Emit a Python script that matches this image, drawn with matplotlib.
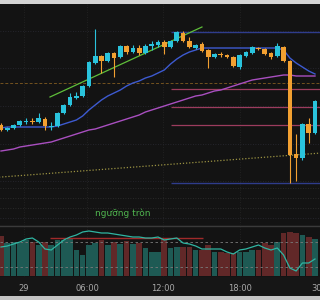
import numpy as np
import matplotlib.pyplot as plt
from matplotlib.patches import Rectangle

# ---------------------------------------------------------------
# Data (30-minute candles, price units are arbitrary chart units)
# ---------------------------------------------------------------
opens  = [105, 100, 102, 105, 108, 109, 108, 111, 103, 104, 117, 125, 132, 134, 144, 167, 174,
          169, 177, 173, 184, 178, 182, 177, 184, 185, 188, 183, 189, 197, 189, 182, 186, 180,
          173, 176, 175, 173, 163, 174, 177, 182, 181, 177, 174, 183, 169, 76, 72, 106, 97]
closes = [100, 102, 105, 109, 109, 108, 112, 104, 104, 117, 125, 133, 134, 144, 168, 174, 169,
          177, 172, 184, 178, 182, 177, 184, 186, 188, 183, 189, 198, 189, 183, 185, 179, 173,
          176, 175, 173, 164, 175, 178, 183, 181, 176, 173, 184, 169, 75, 72, 106, 97, 129]
highs  = [107, 103, 106, 110, 112, 112, 117, 113, 108, 118, 126, 137, 138, 145, 169, 201, 175,
          178, 178, 185, 185, 185, 185, 186, 189, 190, 190, 190, 199, 199, 193, 186, 188, 181,
          177, 178, 176, 174, 176, 179, 184, 183, 182, 178, 187, 184, 170, 96, 107, 112, 130]
lows   = [99, 99, 101, 104, 106, 106, 107, 100, 100, 103, 116, 124, 131, 133, 143, 166, 157,
          168, 153, 172, 176, 177, 175, 176, 180, 183, 176, 182, 188, 188, 182, 181, 178, 162,
          172, 173, 172, 163, 161, 173, 176, 180, 175, 171, 173, 168, 47, 49, 70, 87, 96]

ma_fast = [102, 103, 103, 103, 103, 103, 103, 103, 103, 104, 106, 108, 110, 114, 120, 125, 130,
           134, 137, 140, 144, 147, 149, 152, 154, 157, 160, 166, 171, 175, 178, 180, 182, 182,
           182, 182, 182, 182, 182, 182, 182, 182, 182, 182, 182, 180, 172, 167, 163, 159, 156]
ma_slow = [79, 80, 81, 83, 84, 85, 86, 87, 88, 90, 92, 94, 96, 98, 100, 101, 103, 105, 107, 109,
           111, 113, 115, 118, 120, 122, 124, 126, 128, 130, 132, 134, 135, 137, 139, 140, 142,
           144, 146, 148, 150, 151, 152, 153, 154, 155, 155, 154, 154, 154, 154]
ma_long_x = [-1, 51]
ma_long = [52.5, 77]

trend_x = [7.8, 32.0]
trend_y = [133, 203]

level_start = 27
levels_red = [141, 123, 105]
levels_blue = [198, 47]
level_orange = 147
grid_levels = [199, 162, 124, 86, 49, 12]
dot_levels = [42, 32, 22]

volume = [40, 33, 34, 33, 36, 34, 31, 34, 31, 36, 36, 38, 26, 21, 31, 33, 36, 31, 34, 32, 35,
          32, 33, 28, 24, 24, 38, 28, 29, 29, 29, 26, 26, 31, 24, 24, 23, 23, 24, 24, 26, 26,
          33, 31, 34, 43, 44, 43, 41, 39, 37]
osc = [29, 30, 32, 34, 37, 38, 34, 27, 26, 31, 36, 39, 41, 44, 45, 44, 43, 43, 42, 41, 40, 39,
       39, 38, 38, 39, 36, 37, 38, 33, 32, 30, 27, 27, 27, 27, 24, 22, 26, 27, 29, 31, 28, 26,
       28, 21, 8, 5, 13, 13, 17]
osc_signal_x = [7.8, 32.2]
osc_signal = 38
osc_bands = [34, 9.5]

tick_pos = [3.66, 13.77, 25.8, 38.06, 50.3]
tick_labels = ['29', '06:00', '12:00', '18:00', '30']

note_text = 'ngưỡng tròn'

# ---------------------------------------------------------------
# Figure
# ---------------------------------------------------------------
BG = '#131313'
UP = '#2ac3dc'
DOWN = '#f2a031'

fig = plt.figure(figsize=(3.2, 3.0), dpi=100, facecolor='#161616')
fig.patches.append(Rectangle((0, 1 - 4 / 300), 1, 4 / 300, transform=fig.transFigure,
                             facecolor='#d4d4d4', edgecolor='none', zorder=-1))
fig.patches.append(Rectangle((0, 0), 1, 4 / 300, transform=fig.transFigure,
                             facecolor='#c4c4c4', edgecolor='none', zorder=-1))

ax = fig.add_axes([0, 1 - 225 / 300, 1, 221 / 300])
axv = fig.add_axes([0, 1 - 277 / 300, 1, 51 / 300], sharex=ax)

x = np.arange(len(opens))
o = np.array(opens, dtype=float)
c = np.array(closes, dtype=float)
up = c >= o
colors = np.where(up, UP, DOWN)

ax.set_facecolor(BG)
ax.set_xlim(-0.16, 50.8)
ax.set_ylim(5, 226)

# grid
for g in grid_levels:
    ax.axhline(g, color='#2b2b35', lw=0.6, ls=(0, (1, 2)), zorder=0)
for g in dot_levels:
    ax.axhline(g, color='#303030', lw=0.6, ls=(0, (1, 2)), zorder=0)
for t in tick_pos[:-1]:
    ax.axvline(t, color='#262626', lw=0.6, ls=(0, (1, 2)), zorder=0)
    axv.axvline(t, color='#262626', lw=0.6, ls=(0, (1, 2)), zorder=0)

# levels
ax.axhline(level_orange, color='#74521f', lw=0.7, ls=(0, (3, 2)), zorder=1)
for lv in levels_red:
    ax.hlines(lv, level_start, 52, color='#9c3c5e', lw=0.9, zorder=1)
for lv in levels_blue:
    ax.hlines(lv, level_start, 52, color='#2f3c8c', lw=1.0, zorder=1)

# moving averages / trend
ax.plot(ma_long_x, ma_long, color='#9a9242', lw=0.9, ls=(0, (1, 1.5)), zorder=2)
ax.plot(x, ma_slow, color='#a94fc0', lw=1.0, zorder=2)
ax.plot(x, ma_fast, color='#3d5ad0', lw=1.0, zorder=2)
ax.plot(trend_x, trend_y, color='#5fbf3a', lw=0.9, zorder=2)

# candles
ax.vlines(x, lows, highs, colors=colors, lw=0.8, zorder=3)
body_h = np.maximum(np.abs(c - o), 1.0)
ax.bar(x, body_h, bottom=np.minimum(o, c), width=0.75, color=colors, zorder=4)

ax.text(19.4, 17, note_text, color='#4fb34f', fontsize=6.5, ha='center', va='center')

for a in (ax, axv):
    for s in a.spines.values():
        s.set_visible(False)
ax.tick_params(left=False, labelleft=False, bottom=False, labelbottom=False)

# lower panel
axv.set_facecolor(BG)
axv.set_ylim(-1, 50)
vol_colors = np.where(up, '#1e5a54', '#612828')
axv.bar(x, volume, width=0.9, color=vol_colors, zorder=1)
axv.hlines(osc_signal, osc_signal_x[0], osc_signal_x[1], color='#a02a2a', lw=1.0, zorder=2)
for b in osc_bands:
    axv.axhline(b, color='#7a7a7a', lw=0.6, ls=(0, (3, 3)), zorder=3)
axv.plot(x, osc, color='#2fb5a2', lw=0.9, zorder=4)
axv.spines['top'].set_visible(True)
axv.spines['top'].set_color('#3a3a3a')
axv.spines['top'].set_linewidth(1.0)

axv.set_xticks(tick_pos)
axv.set_xticklabels(tick_labels)
axv.tick_params(axis='x', length=0, pad=5, labelsize=6, labelcolor='#a8a8a8')
axv.tick_params(left=False, labelleft=False)

fig.savefig('out.png', dpi=100, facecolor=fig.get_facecolor())
